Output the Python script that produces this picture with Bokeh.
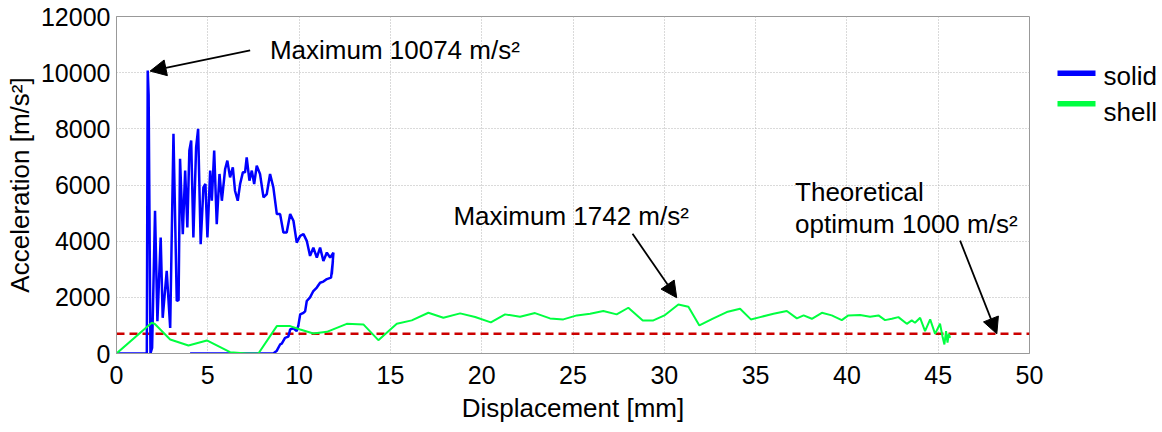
from bokeh.plotting import figure
from bokeh.layouts import row
from bokeh.models import Range1d, FixedTicker, Label, Arrow, NormalHead
from bokeh.core.properties import value
from bokeh.embed import file_html
from bokeh.resources import INLINE

# ---------------- data ----------------
solid_x = [0, 1.57, 1.66, 1.71, 1.76, 1.86, 1.95, 2.11, 2.24, 2.42, 2.53, 2.75, 2.94,
           3.12, 3.30, 3.40, 3.48, 3.63, 3.76, 3.88, 3.99, 4.09, 4.21, 4.36, 4.47, 4.61,
           4.76, 4.87, 4.98, 5.13, 5.22, 5.35, 5.49, 5.64, 5.77, 5.95, 6.07, 6.22, 6.37,
           6.49, 6.64, 6.77, 6.92, 7.04, 7.13, 7.28, 7.41, 7.54, 7.68, 7.86, 8.05, 8.23,
           8.41, 8.59, 8.78, 8.96, 9.14, 9.32, 9.51, 9.69, 9.87, 10.06, 10.24, 10.42,
           10.60, 10.78, 10.97, 11.15, 11.33, 11.52, 11.70, 11.88, 11.79, 11.85, 11.75,
           11.52, 11.33, 11.15, 10.97, 10.78, 10.60, 10.42, 10.33, 10.24, 10.06, 9.96,
           9.87, 9.69, 9.51, 9.41, 9.23, 9.05, 8.96, 8.78, 8.59, 4.03]
solid_y = [0, 0, 0, 10074, 9200, 0, 200, 5080, 1150, 4130, 1270, 2940, 910,
           7820, 1870, 1900, 6930, 4250, 6511, 4486, 7225, 7582, 4129, 7343, 8000, 3893,
           5914, 6036, 4129, 6511, 5439, 7225, 4607, 6393, 5439, 6571, 6868, 6271, 6629,
           5796, 5439, 6036, 6450, 6450, 6986, 6154, 6511, 6036, 6689, 6393, 5557, 5679,
           6393, 5914, 4964, 4964, 4307, 4307, 4964, 4725, 3950, 4189, 4250, 4011,
           3475, 3771, 3414, 3771, 3296, 3593, 3414, 3593, 2821, 3300, 2700,
           2650, 2560, 2521, 2350, 2225, 2000, 1868, 1500, 1450, 1393, 1000,
           796, 900, 857, 600, 557, 350, 321, 100, 0, 0]

shell_x = [0, 1.93, 2.10, 2.94, 3.94, 4.95, 6.22, 7.14, 7.77, 8.78, 9.51, 10.06, 10.78,
           11.52, 12.61, 13.52, 14.34, 15.35, 16.17, 17.08, 17.90, 18.82, 19.64, 20.50,
           21.28, 22.10, 22.92, 23.74, 24.47, 25.21, 25.94, 26.66, 27.39, 28.03, 28.82,
           29.40, 30.04, 30.77, 31.32, 31.92, 32.69, 33.42, 34.15, 34.74, 35.25, 35.98,
           36.71, 37.26, 37.63, 38.08, 38.63, 39.17, 39.72, 40.08, 40.72, 41.27, 41.73,
           42.09, 42.46, 42.82, 43.28, 43.55, 43.73, 44.01, 44.28, 44.56, 44.83, 45.10,
           45.25, 45.34, 45.43, 45.51, 45.58, 45.65]
shell_y = [0, 1093, 1050, 500, 286, 464, 46, 0, 0, 975, 975, 857, 714,
           771, 1057, 1036, 475, 1057, 1179, 1450, 1271, 1429, 1300, 1110,
           1393, 1307, 1439, 1250, 1214, 1357, 1414, 1511, 1393, 1629, 1179,
           1179, 1368, 1742, 1664, 1000, 1250, 1475, 1593, 1214, 1296, 1414,
           1511, 1250, 1357, 1236, 1450, 1357, 1189, 1357, 1368, 1307, 1357,
           1189, 1236, 1296, 1057, 1179, 1093, 1271, 796, 1214, 700, 1057,
           557, 321, 796, 386, 700, 557]

optimum_level = 700
x_ticks = [0, 5, 10, 15, 20, 25, 30, 35, 40, 45, 50]
y_ticks = [0, 2000, 4000, 6000, 8000, 10000, 12000]
y_tick_labels = ["0", "2000", "4000", "6000", "8000", "10000", "12000"]
series_names = ["solid", "shell"]

FONT = "Liberation Sans"
BLUE = "#0000ff"
GREEN = "#00ff40"
RED = "#cc0000"
series_colors = [BLUE, GREEN]

MAIN_W = 1048
p = figure(width=MAIN_W, height=432, output_backend="svg", toolbar_location=None,
           x_range=Range1d(0, 50), y_range=Range1d(0, 12000),
           min_border_left=116, min_border_right=MAIN_W - 1029, min_border_top=16,
           min_border_bottom=79)
p.background_fill_color = "white"
p.border_fill_color = "white"
p.outline_line_color = "#999999"
p.outline_line_width = 1

for ax in (p.xaxis[0], p.yaxis[0]):
    ax.axis_line_color = "#999999"
    ax.major_tick_in = 0
    ax.major_tick_out = 0
    ax.minor_tick_in = 0
    ax.minor_tick_out = 0
    ax.major_label_text_font = FONT
    ax.major_label_text_font_size = "25px"
    ax.major_label_text_color = "black"
    ax.axis_label_text_font = FONT
    ax.axis_label_text_font_size = "26px"
    ax.axis_label_text_font_style = "normal"
    ax.axis_label_text_color = "black"

p.xaxis.ticker = FixedTicker(ticks=x_ticks)
p.yaxis.ticker = FixedTicker(ticks=y_ticks)
p.yaxis.major_label_overrides = {t: s for t, s in zip(y_ticks, y_tick_labels)}
p.xaxis.axis_label = "Displacement [mm]"
p.yaxis.axis_label = "Acceleration [m/s²]"
p.xaxis.major_label_standoff = 12
p.yaxis.major_label_standoff = 6
p.xaxis.axis_label_standoff = 6
p.yaxis.axis_label_standoff = 3

for g in (p.xgrid[0], p.ygrid[0]):
    g.grid_line_color = "#b4b4b4"
    g.grid_line_dash = "1 2"
    g.grid_line_width = 1

# theoretical optimum line
p.line(x=[0, 50], y=[optimum_level, optimum_level], line_color=RED,
       line_width=2.5, line_dash="8 5")

p.line(x=solid_x, y=solid_y, line_color=BLUE, line_width=2.5)
p.line(x=shell_x, y=shell_y, line_color=GREEN, line_width=2)

# annotations
label_style = dict(text_font=FONT, text_font_size="26px", text_color="black",
                   text_baseline="alphabetic")
p.add_layout(Label(x=8.4, y=10820, text="Maximum 10074 m/s²", **label_style))
p.add_layout(Label(x=18.45, y=4880, text="Maximum 1742 m/s²", **label_style))
p.add_layout(Label(x=37.16, y=5740, text="Theoretical", **label_style))
p.add_layout(Label(x=37.16, y=4610, text="optimum 1000 m/s²", **label_style))

def arrow(x0, y0, x1, y1):
    p.add_layout(Arrow(end=NormalHead(size=16, fill_color="black", line_color="black"),
                       x_start=x0, y_start=y0, x_end=x1, y_end=y1,
                       line_color="black", line_width=1.8))

arrow(7.32, 10796, 1.84, 10057)
arrow(28.26, 4261, 30.68, 1986)
arrow(46.2, 4018, 48.21, optimum_level)

# ---------------- legend panel (separate small figure, pixel coordinates) ----------------
LEG_W = 1162 - MAIN_W
lg = figure(width=LEG_W, height=432, output_backend="svg", toolbar_location=None,
            title=None, x_range=Range1d(0, LEG_W), y_range=Range1d(432, 0),
            x_axis_type=None, y_axis_type=None,
            min_border_left=0, min_border_right=0, min_border_top=0, min_border_bottom=0)
lg.outline_line_color = None
lg.background_fill_color = "white"
lg.border_fill_color = "white"
lg.grid.visible = False

sample_x0, sample_x1 = 1057 - MAIN_W, 1095 - MAIN_W
text_x = 1103 - MAIN_W
sample_ys = [72.8, 112.0]
text_ys = [76.7, 122.7]
for name, color, sy, ty in zip(series_names, series_colors, sample_ys, text_ys):
    lg.line(x=[sample_x0, sample_x1], y=[sy, sy], line_color=color, line_width=5.5)
    lg.text(x=[text_x], y=[ty], text=[name], text_font=value(FONT),
            text_font_size="26px", text_color="black", text_baseline="alphabetic",
            text_align="left")

layout = row(p, lg, spacing=0)
open("out.html", "w").write(file_html(layout, INLINE))
